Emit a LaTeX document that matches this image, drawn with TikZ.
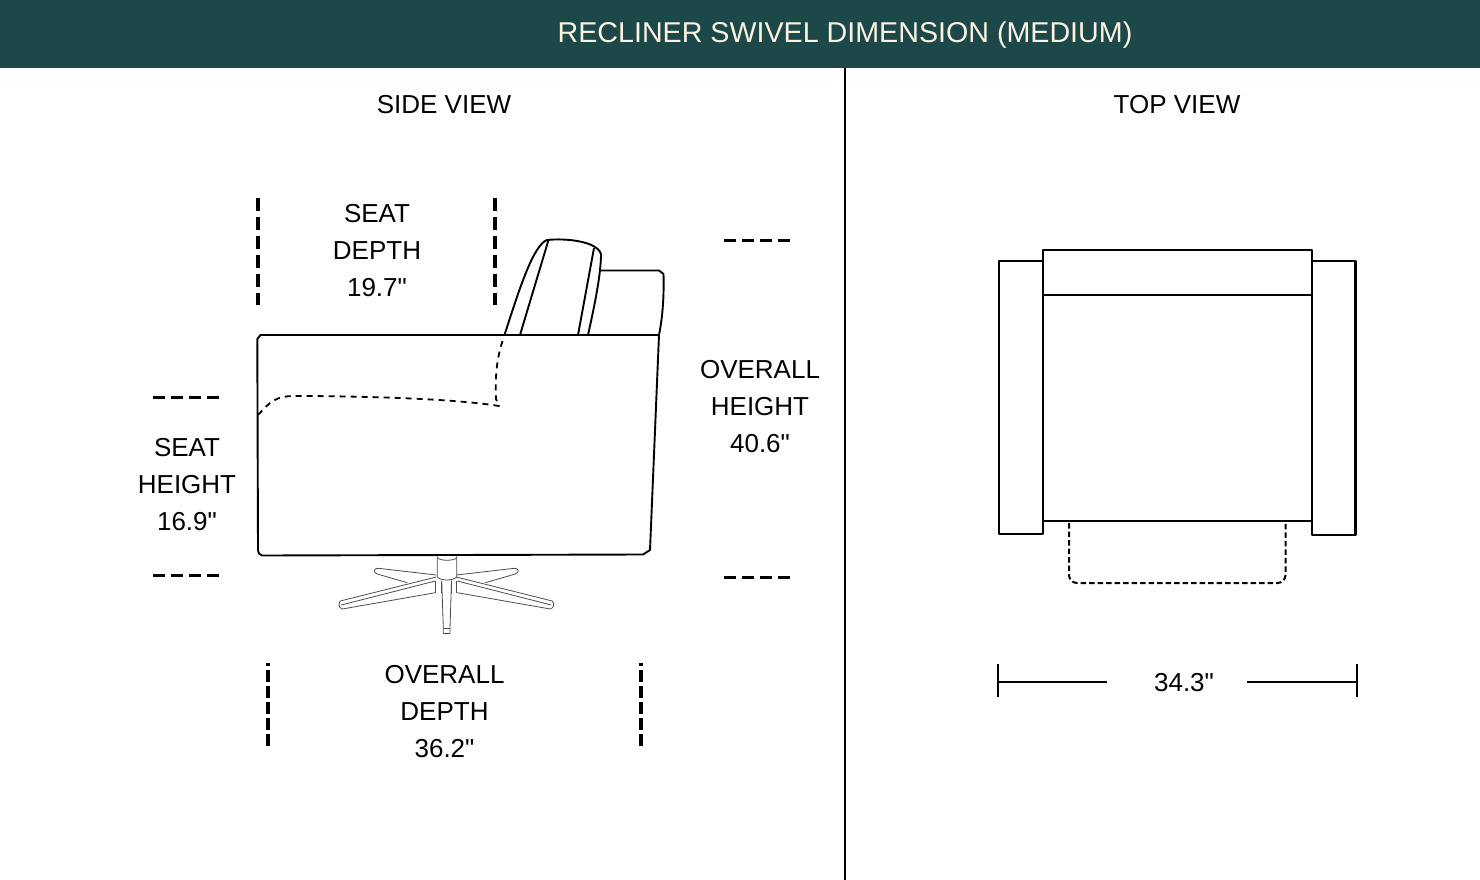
\documentclass[tikz,border=0pt]{standalone}
\usepackage{fontspec}
\newfontfamily\labelfont{Liberation Sans}
\definecolor{headbar}{HTML}{1C4849}
\definecolor{headtext}{HTML}{FBF3E0}
\begin{document}
\begin{tikzpicture}[x=1pt,y=-1pt,line join=round,
  dim text/.style={font=\labelfont\fontsize{26}{37}\selectfont,align=center,text=black,inner sep=0pt},
  mark line/.style={line width=3.2pt,dash pattern=on 13pt off 6pt},
  mark low/.style={line width=4pt,dash pattern=on 12pt off 4pt,dash phase=9pt},
  mark flat/.style={line width=3pt,dash pattern=on 12pt off 6pt},
  chair line/.style={line width=1.9pt},
  chair dash/.style={line width=1.8pt,dash pattern=on 6pt off 5pt},
  base line/.style={line width=.8pt,black!70},
  plan line/.style={line width=2.8pt}]
\useasboundingbox (0,0) rectangle (1480,880);
% header and divider
\fill[headbar] (0,0) rectangle (1480,68.5);
\node[dim text,text=headtext,font=\labelfont\fontsize{28.65}{34}\selectfont] (title) at (845,35) {RECLINER SWIVEL DIMENSION (MEDIUM)};
\coordinate (divtop) at (845,68);
\coordinate (divbot) at (845,880);
\draw[line width=2.2pt] (divtop) -- (divbot);
\node[dim text] (side) at (444,104.5) {SIDE VIEW};
\node[dim text] (top) at (1177,104.5) {TOP VIEW};

% labels
\node[dim text] (seatdepth) at (377,250.5) {SEAT\\DEPTH\\19.7"};
\node[dim text] (seatheight) at (187,484.5) {SEAT\\HEIGHT\\16.9"};
\node[dim text] (overallheight) at (760,406.5) {OVERALL\\HEIGHT\\40.6"};
\node[dim text] (overalldepth) at (444.5,711.5) {OVERALL\\DEPTH\\36.2"};
\node[dim text] (width) at (1184,682.5) {34.3"};

% dashed marks
\foreach \x in {258,495}
\draw[mark line] (\x,198) -- (\x,305);
\foreach \x in {268.3,641.3}
\draw[mark low] (\x,663) -- (\x,747);
\foreach \y in {397,575}
\draw[mark flat] (153,\y) -- (219,\y);
\foreach \y in {240,577}
\draw[mark flat] (724,\y) -- (790,\y);

% chair body
\draw[chair line] (260.5,335) -- (659,335) -- (650,550) -- (643,554.5) -- (262,555.5)
  .. controls (259,554.5) and (258,553) .. (258,550) -- (257.3,339) -- cycle;
% back cushion
\draw[chair line] (504.5,335) .. controls (518,293) and (533,245) .. (547,240)
  .. controls (565,238) and (597,241) .. (601,254)
  .. controls (601,275) and (594,308) .. (588,335);
\draw[chair line] (548.5,240) -- (520,335);
\draw[chair line] (594,248) -- (578,335);
% arm behind
\draw[chair line] (601,270.5) -- (659,270.5) -- (663.5,274)
  .. controls (664,295) and (663,315) .. (659,335);
% hidden seat line
\draw[chair dash] (502.5,341) .. controls (497,358) and (495,375) .. (496,399) -- (499,406)
  .. controls (450,398) and (350,396) .. (295,396)
  .. controls (275,396) and (270,402) .. (258,415);

% swivel base
\foreach \s in {1,-1} {
\begin{scope}[shift={(446.3,0)},xscale=\s]
\draw[base line] (10,575) -- (68,568.3) .. controls (72,568) and (74,572) .. (69,574) -- (39,582.7);
\draw[base line] (10,577) -- (106,601) .. controls (108,603) and (108,608) .. (104,609) -- (11,592.7);
\draw[base line] (11,581) -- (105,605);
\draw[base line] (10.5,581) -- (10.5,592.7);
\draw[base line] (5,582) -- (5,592.7);
\end{scope}
}
\draw[base line,fill=white] (437.3,556) -- (437.3,577) .. controls (441,581) and (453,581) .. (456.7,577) -- (456.7,556);
\draw[base line] (437.3,558) .. controls (441,561) and (453,561) .. (456.7,558);
\draw[base line] (441.7,580.5) -- (443.3,628) -- (443.3,633.5) -- (450,633.5) -- (450,628) -- (451.5,580.5);
\draw[base line] (443.3,628) -- (450,628);

% top view
\draw[plan line] (999,261) rectangle (1043,534);
\draw[plan line] (1312,261) rectangle (1355.5,535);
\draw[plan line] (1043,250) rectangle (1312,295);
\draw[plan line] (1043,295) rectangle (1312,521);
\draw[line width=2pt,dash pattern=on 5.5pt off 3pt,rounded corners=8pt] (1069,523) -- (1069,583) -- (1285.5,583) -- (1285.5,523);

% width dimension
\coordinate (wl) at (998,682);
\coordinate (wr) at (1357,682);
\coordinate (wltop) at (998,664);
\coordinate (wlbot) at (998,697);
\coordinate (wrtop) at (1357,664);
\coordinate (wrbot) at (1357,697);
\coordinate (wla) at (1107,682);
\coordinate (wra) at (1247,682);
\draw[line width=1.8pt] (wltop) -- (wlbot);
\draw[line width=1.8pt] (wrtop) -- (wrbot);
\draw[line width=1.8pt] (wl) -- (wla);
\draw[line width=1.8pt] (wra) -- (wr);
\end{tikzpicture}
\end{document}
